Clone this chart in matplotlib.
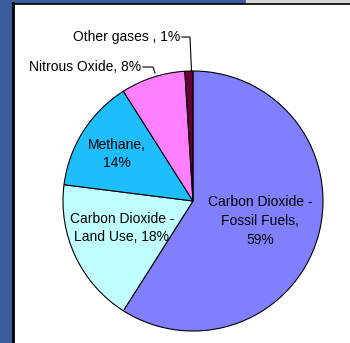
import matplotlib
matplotlib.use("Agg")
import matplotlib.pyplot as plt
from matplotlib.patches import Rectangle

# Greenhouse gas emission shares (%)
categories = ["Carbon Dioxide -\nFossil Fuels,\n59%",
              "Carbon Dioxide -\nLand Use, 18%",
              "Methane,\n14%",
              "Nitrous Oxide, 8%",
              "Other gases , 1%"]
shares = [59, 18, 14, 8, 1]
colors = ["#8080FF", "#C0FFFF", "#1EBEFC", "#FF80FF", "#660033"]

W, H = 350, 343
fig = plt.figure(figsize=(W / 100, H / 100), dpi=100)
ax = fig.add_axes([0, 0, 1, 1])

cx, cy, r = 193, 142, 130
wedges, _ = ax.pie(shares, colors=colors, startangle=90, counterclock=False,
                   center=(cx, cy), radius=r, frame=True,
                   wedgeprops=dict(edgecolor="black", linewidth=0.8))
ax.set_xlim(0, W)
ax.set_ylim(0, H)
ax.set_aspect("auto")
ax.axis("off")

# window frame: blue strip on the left and top, black inner edge
ax.add_patch(Rectangle((0, 0), 12, H, color="#3A5C9C", zorder=0))
ax.add_patch(Rectangle((0, H - 3), 246, 3, color="#3A5C9C", zorder=0))
ax.add_patch(Rectangle((246, H - 3), W - 246, 3, color="#D8D8D8", zorder=0))
ax.plot([13, 13], [0, H - 3], color="black", lw=2, zorder=1)
ax.plot([13, W], [H - 3.5, H - 3.5], color="black", lw=1.2, zorder=1)

font = dict(family="Liberation Sans", fontsize=10, color="black")
ax.text(260, H - 221, categories[0], ha="center", va="center",
        linespacing=1.45, **font)
ax.text(122, H - 228, categories[1], ha="center", va="center",
        linespacing=1.45, **font)
ax.text(117, H - 154, categories[2], ha="center", va="center",
        linespacing=1.35, **font)
ax.text(141, H - 67, categories[3], ha="right", va="center", **font)
ax.text(180, H - 37, categories[4], ha="right", va="center", **font)

# leader lines for the two small slices
ax.plot([143, 153, 155], [H - 67, H - 67, H - 73], color="black", lw=0.8)
ax.plot([182, 190, 191.5], [H - 37, H - 37, H - 71], color="black", lw=0.8)

fig.savefig("out.png", dpi=100)
